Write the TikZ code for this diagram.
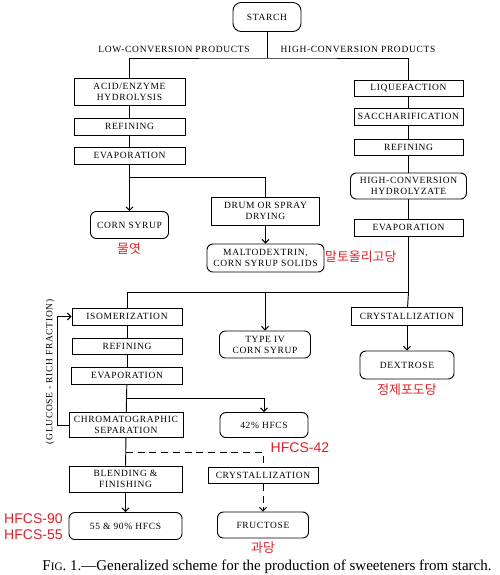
\documentclass[tikz,border=0pt]{standalone}
\usepackage{fontspec}
\setmainfont{Liberation Serif}
\newfontfamily\boxfont[LetterSpace=7]{Liberation Serif}
\newfontfamily\kofont{Noto Sans CJK KR}
\newfontfamily\redsans{Liberation Sans}
\usepackage{xcolor}
\definecolor{KoRed}{HTML}{E21F26}
\usetikzlibrary{arrows.meta,positioning}
\tikzset{
  procbox/.style={
    draw,
    line width=0.8pt,
    minimum height=0.51cm,
    inner sep=1pt,
    align=center,
    font=\boxfont\fontsize{8.1}{9.3}\selectfont
  },
  prodbox/.style={
    procbox,
    rounded corners=5pt
  },
  flowline/.style={
    line width=0.8pt
  },
  flowarrow/.style={
    flowline,
    -{Straight Barb[length=3pt,width=6pt]}
  },
  branchlabel/.style={
    font=\boxfont\fontsize{8.1}{9.3}\selectfont
  },
  kolabel/.style={
    text=KoRed,
    inner sep=0pt,
    font=\kofont\fontsize{11}{12}\selectfont
  },
  hfcslabel/.style={
    text=KoRed,
    inner sep=0pt,
    align=right,
    font=\redsans\fontsize{12}{13.5}\selectfont
  }
}
\begin{document}
\begin{tikzpicture}[x=0.03cm,y=-0.03cm]
\useasboundingbox (0,0) rectangle (500,575);
% top
\node[prodbox, rounded corners=7pt, minimum width=2.04cm, minimum height=0.87cm] (starch) at (267,17) {STARCH};
\node[branchlabel] (lowconv) at (174,49) {LOW-CONVERSION PRODUCTS};
\node[branchlabel] (highconv) at (358,49) {HIGH-CONVERSION PRODUCTS};
\coordinate (topsplit) at (267,58);
% low-conversion column
\node[procbox, minimum width=3.33cm, minimum height=0.81cm] (acid) at (129.5,91.5) {ACID/ENZYME\\HYDROLYSIS};
\node[procbox, minimum width=3.33cm] (refinelow) at (129.5,126.5) {REFINING};
\node[procbox, minimum width=3.33cm] (evaplow) at (129.5,155.5) {EVAPORATION};
\coordinate (lowsplit) at (129.5,177);
\node[prodbox, minimum width=2.34cm, minimum height=0.81cm] (cornsyrup) at (129.5,225) {CORN SYRUP};
\node[procbox, minimum width=3.24cm, minimum height=0.84cm] (drum) at (265.5,211) {DRUM OR SPRAY\\DRYING};
\node[prodbox, minimum width=3.51cm, minimum height=0.84cm] (malto) at (265.5,258) {MALTODEXTRIN,\\CORN SYRUP SOLIDS};
% high-conversion column
\node[procbox, minimum width=3.27cm, minimum height=0.48cm] (liquef) at (408.5,88) {LIQUEFACTION};
\node[procbox, minimum width=3.27cm] (sacch) at (408.5,116.5) {SACCHARIFICATION};
\node[procbox, minimum width=3.27cm, minimum height=0.48cm] (refinehigh) at (408.5,147.5) {REFINING};
\node[prodbox, minimum width=3.48cm, minimum height=0.78cm] (hydrolyzate) at (408.5,186) {HIGH-CONVERSION\\HYDROLYZATE};
\node[procbox, minimum width=3.27cm] (evaphigh) at (408.5,227.5) {EVAPORATION};
\coordinate (midsplit) at (408.5,292);
\node[procbox, minimum width=3.33cm, minimum height=0.54cm] (crystdex) at (407,316.5) {CRYSTALLIZATION};
\node[prodbox, minimum width=2.82cm, minimum height=0.84cm] (dextrose) at (407,365) {DEXTROSE};
% isomerization column
\node[procbox, minimum width=3.3cm] (isomer) at (127,316.5) {ISOMERIZATION};
\node[procbox, minimum width=3.3cm, minimum height=0.48cm] (refineiso) at (127,346) {REFINING};
\node[procbox, minimum width=3.33cm] (evapiso) at (127,375.5) {EVAPORATION};
\coordinate (isosplit) at (127,398);
\node[procbox, minimum width=3.42cm, minimum height=0.75cm] (chroma) at (126,425) {CHROMATOGRAPHIC\\SEPARATION};
\coordinate (fracsplit) at (126,452);
\node[procbox, minimum width=3.39cm, minimum height=0.78cm] (blend) at (125.5,479) {BLENDING \&\\FINISHING};
\node[prodbox, minimum width=3.39cm, minimum height=0.81cm] (hfcshigh) at (125.5,526) {55 \& 90\% HFCS};
\node[prodbox, minimum width=2.73cm, minimum height=0.81cm] (typefour) at (265,344.5) {TYPE IV\\CORN SYRUP};
\node[prodbox, minimum width=2.64cm, minimum height=0.75cm] (hfcslow) at (264,425) {42\% HFCS};
\node[procbox, minimum width=3.3cm, minimum height=0.47cm] (crystfru) at (263,475.5) {CRYSTALLIZATION};
\node[prodbox, minimum width=2.73cm, minimum height=0.78cm] (fructose) at (263,525) {FRUCTOSE};
\node[branchlabel, rotate=90] (glurich) at (50,372) {(GLUCOSE - RICH FRACTION)};
% red notes
\node[kolabel] (mulyeot) at (129,249) {물엿};
\node[kolabel, anchor=west] (maltoko) at (325,257) {말토올리고당};
\node[kolabel] (dextroseko) at (407,390) {정제포도당};
\node[hfcslabel] (hfcs42note) at (300,448) {HFCS-42};
\node[hfcslabel, anchor=east] (hfcs90note) at (63,527) {HFCS-90\\HFCS-55};
\node[kolabel] (fructoseko) at (263,548) {과당};
\node (caption) at (267,567) {\fontsize{12.8}{14}\selectfont F{\fontsize{9.6}{14}\selectfont IG}. 1.—Generalized scheme for the production of sweeteners from starch.};
% connectors
\draw[flowline] (starch) -- (topsplit);
\draw[flowline] (acid) |- (topsplit) -| (liquef);
\draw[flowline] (acid) -- (refinelow);
\draw[flowline] (refinelow) -- (evaplow);
\draw[flowline] (evaplow) -- (lowsplit);
\draw[flowarrow] (lowsplit) -- (cornsyrup);
\draw[flowline] (lowsplit) -| (drum);
\draw[flowarrow] (drum) -- (malto);
\draw[flowline] (liquef) -- (sacch);
\draw[flowline] (sacch) -- (refinehigh);
\draw[flowline] (refinehigh) -- (hydrolyzate);
\draw[flowline] (hydrolyzate) -- (evaphigh);
\draw[flowline] (evaphigh) -- (midsplit);
\draw[flowline] (midsplit) -- (crystdex);
\draw[flowarrow] (crystdex) -- (dextrose);
\draw[flowline] (isomer) |- (midsplit);
\draw[flowarrow] (typefour |- midsplit) -- (typefour);
\draw[flowline] (isomer) -- (refineiso);
\draw[flowline] (refineiso) -- (evapiso);
\draw[flowline] (evapiso) -- (chroma);
\draw[flowarrow] (isosplit) -| (hfcslow);
\draw[flowarrow] (chroma.west) -- ++(-11,0) |- (isomer.west);
\draw[flowline] (chroma) -- (blend);
\draw[flowline, dashed, dash pattern=on 6pt off 4pt] (fracsplit) -| (crystfru);
\draw[flowarrow, dashed, dash pattern=on 6pt off 4pt] (crystfru) -- (fructose);
\draw[flowarrow] (blend) -- (hfcshigh);
\end{tikzpicture}
\end{document}
